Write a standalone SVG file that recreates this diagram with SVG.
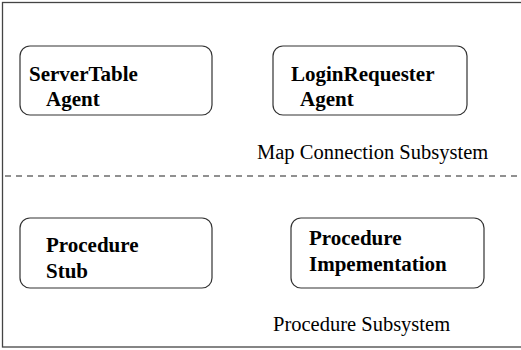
<svg xmlns="http://www.w3.org/2000/svg" width="521" height="350" viewBox="0 0 521 350">
<style>
.node{fill:#fff;stroke:#333;stroke-width:1.2}
.b{font-family:'Liberation Serif','Times New Roman',serif;font-weight:bold;font-size:21px;fill:#000}
.r{font-family:'Liberation Serif','Times New Roman',serif;font-size:20.5px;fill:#000}
</style>
<rect x="0" y="0" width="521" height="350" fill="#fff"/>
<g id="frame">
<rect x="2.5" y="2.5" width="525" height="344.5" fill="none" stroke="#444" stroke-width="1.3"/>
</g>
<g id="connectors">
<line x1="5" y1="176" x2="521" y2="176" stroke="#222" stroke-width="1.1" stroke-dasharray="6,5"/>
</g>
<g id="servertable">
<rect class="node" x="20" y="46" width="192" height="69" rx="10"/>
<text class="b" x="29" y="81">ServerTable</text>
<text class="b" x="46" y="106">Agent</text>
</g>
<g id="loginrequester">
<rect class="node" x="273" y="46" width="194" height="69" rx="10"/>
<text class="b" x="291" y="81">LoginRequester</text>
<text class="b" x="300" y="106">Agent</text>
</g>
<g id="procstub">
<rect class="node" x="20" y="218" width="192" height="70" rx="10"/>
<text class="b" x="46" y="252">Procedure</text>
<text class="b" x="46" y="278">Stub</text>
</g>
<g id="procimpl">
<rect class="node" x="291" y="218" width="193" height="70" rx="10"/>
<text class="b" x="309" y="245">Procedure</text>
<text class="b" x="309" y="271">Impementation</text>
</g>
<text class="r" x="257" y="159">Map Connection Subsystem</text>
<text class="r" x="273" y="331">Procedure Subsystem</text>
</svg>
